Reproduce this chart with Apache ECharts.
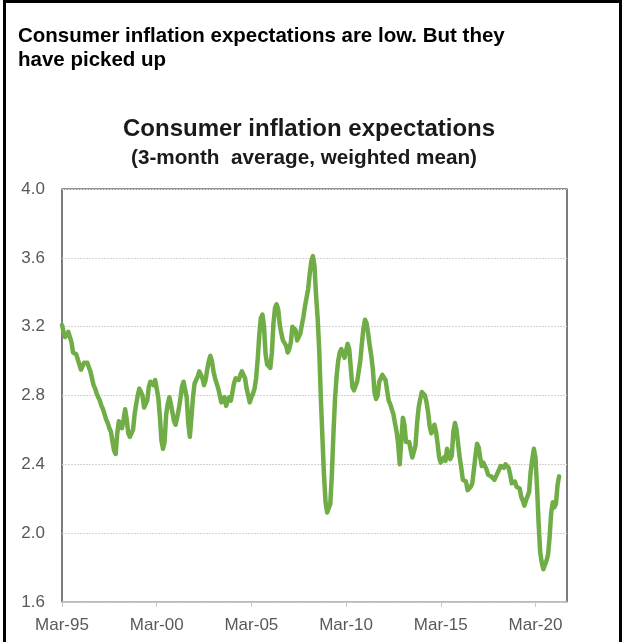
<!DOCTYPE html>
<html>
<head>
<meta charset="utf-8">
<script src="https://cdn.jsdelivr.net/npm/echarts@6/dist/echarts.min.js"></script>
<style>
  html, body { margin: 0; padding: 0; background: #fff; }
  #chart { position: absolute; left: 0; top: 0; width: 624px; height: 642px; }
  #frame {
    position: absolute; left: 3px; top: 0; width: 619px; height: 700px;
    border: 3px solid #000; box-sizing: border-box; pointer-events: none;
  }
</style>
</head>
<body>
<div id="chart"></div>
<div id="frame"></div>
<script>
// monthly, 3-month average, weighted mean; Mar-95 .. Jun-21
const expectations = [
  3.21, 3.17, 3.14, 3.15, 3.17, 3.18, 3.11, 3.05, 3.06, 3.04, 3.01, 2.98,
  2.95, 2.96, 2.99, 3.00, 2.99, 2.98, 2.94, 2.90, 2.86, 2.84, 2.81, 2.79,
  2.77, 2.74, 2.72, 2.69, 2.66, 2.64, 2.61, 2.59, 2.53, 2.48, 2.46, 2.58,
  2.65, 2.66, 2.61, 2.66, 2.72, 2.66, 2.58, 2.56, 2.56, 2.60, 2.69, 2.75,
  2.80, 2.84, 2.82, 2.80, 2.73, 2.73, 2.77, 2.85, 2.88, 2.89, 2.86, 2.89,
  2.88, 2.79, 2.68, 2.54, 2.49, 2.53, 2.69, 2.75, 2.79, 2.75, 2.70, 2.65,
  2.63, 2.64, 2.72, 2.78, 2.85, 2.88, 2.89, 2.79, 2.64, 2.56, 2.67, 2.79,
  2.87, 2.89, 2.91, 2.94, 2.92, 2.90, 2.86, 2.89, 2.95, 3.00, 3.03, 3.00,
  2.94, 2.90, 2.87, 2.84, 2.80, 2.76, 2.77, 2.79, 2.74, 2.77, 2.79, 2.77,
  2.82, 2.87, 2.90, 2.90, 2.89, 2.92, 2.94, 2.94, 2.90, 2.84, 2.80, 2.76,
  2.79, 2.81, 2.84, 2.90, 3.01, 3.15, 3.25, 3.27, 3.20, 3.04, 2.98, 2.97,
  2.96, 3.05, 3.22, 3.31, 3.33, 3.30, 3.21, 3.16, 3.12, 3.11, 3.09, 3.05,
  3.07, 3.11, 3.20, 3.20, 3.18, 3.12, 3.11, 3.16, 3.21, 3.26, 3.32, 3.37,
  3.42, 3.51, 3.58, 3.61, 3.55, 3.38, 3.25, 3.06, 2.79, 2.56, 2.34, 2.18,
  2.12, 2.12, 2.17, 2.34, 2.58, 2.78, 2.91, 3.00, 3.05, 3.07, 3.06, 3.02,
  3.03, 3.10, 3.07, 2.96, 2.85, 2.83, 2.82, 2.88, 2.94, 3.00, 3.10, 3.19,
  3.24, 3.22, 3.16, 3.09, 3.03, 2.95, 2.82, 2.78, 2.80, 2.88, 2.90, 2.92,
  2.92, 2.89, 2.83, 2.77, 2.75, 2.72, 2.69, 2.64, 2.59, 2.52, 2.40, 2.54,
  2.67, 2.63, 2.53, 2.53, 2.53, 2.48, 2.44, 2.43, 2.51, 2.64, 2.73, 2.78,
  2.82, 2.81, 2.80, 2.76, 2.70, 2.62, 2.58, 2.60, 2.63, 2.59, 2.52, 2.44,
  2.41, 2.41, 2.44, 2.42, 2.49, 2.46, 2.43, 2.45, 2.59, 2.64, 2.60, 2.52,
  2.44, 2.38, 2.31, 2.30, 2.30, 2.25, 2.25, 2.27, 2.29, 2.37, 2.45, 2.52,
  2.50, 2.44, 2.39, 2.41, 2.41, 2.37, 2.34, 2.33, 2.33, 2.32, 2.31, 2.32,
  2.35, 2.37, 2.39, 2.39, 2.38, 2.40, 2.41, 2.38, 2.34, 2.29, 2.28, 2.30,
  2.27, 2.28, 2.26, 2.21, 2.19, 2.16, 2.19, 2.18, 2.24, 2.36, 2.43, 2.49,
  2.44, 2.27, 2.06, 1.89, 1.83, 1.79, 1.815, 1.84, 1.875, 1.98, 2.12, 2.18,
  2.15, 2.17, 2.28, 2.33
];

const monthNames = ['Jan', 'Feb', 'Mar', 'Apr', 'May', 'Jun', 'Jul', 'Aug', 'Sep', 'Oct', 'Nov', 'Dec'];
const axisStart = { year: 1995, month: 2 };   // Mar-95
const axisEnd = { year: 2021, month: 10 };    // Nov-21 (right edge of plot)
const yTicks = { min: 1.6, max: 4.0, step: 0.4 };

const titleText = 'Consumer inflation expectations are low. But they\nhave picked up';
const chartTitle = 'Consumer inflation expectations';
const chartSubtitle = '(3-month  average, weighted mean)';

// category labels like "Mar-95"
const categories = [];
for (let y = axisStart.year, m = axisStart.month; y < axisEnd.year || (y === axisEnd.year && m <= axisEnd.month);) {
  categories.push(monthNames[m] + '-' + String(y % 100).padStart(2, '0'));
  m++;
  if (m > 11) { m = 0; y++; }
}

const chart = echarts.init(document.getElementById('chart'));

const font = '"Liberation Sans", Arial, sans-serif';

const option = {
  animation: false,
  backgroundColor: '#fff',
  title: [
    {
      text: titleText,
      left: 18,
      top: 25,
      padding: 0,
      textStyle: { fontFamily: font, fontSize: 20.5, fontWeight: 'bold', color: '#000', lineHeight: 23.5 }
    },
    {
      text: chartTitle,
      left: 123,
      top: 115,
      padding: 0,
      textStyle: { fontFamily: font, fontSize: 24, fontWeight: 'bold', color: '#1a1a1a', lineHeight: 28 }
    },
    {
      text: chartSubtitle,
      left: 131,
      top: 147,
      padding: 0,
      textStyle: { fontFamily: font, fontSize: 20.7, fontWeight: 'bold', color: '#1a1a1a', lineHeight: 22 }
    }
  ],
  grid: {
    left: 62,
    right: 57,
    top: 189,
    bottom: 40,
    show: true,
    borderColor: '#262626',
    borderWidth: 1.2
  },
  xAxis: {
    type: 'category',
    data: categories,
    boundaryGap: false,
    axisLine: { show: true, lineStyle: { color: '#c8c8c8', width: 1.5 } },
    axisTick: {
      show: true,
      interval: 59,
      length: 5,
      lineStyle: { color: '#c8c8c8' }
    },
    axisLabel: {
      interval: 59,
      margin: 15,
      fontFamily: font,
      fontSize: 17,
      color: '#595959'
    },
    splitLine: { show: false }
  },
  yAxis: {
    type: 'value',
    min: yTicks.min,
    max: yTicks.max,
    interval: yTicks.step,
    axisLine: { show: false },
    axisTick: { show: false },
    axisLabel: {
      margin: 17,
      fontFamily: font,
      fontSize: 17,
      color: '#595959',
      formatter: (v) => v.toFixed(1)
    },
    splitLine: {
      show: true,
      lineStyle: { color: '#d4d4d4', type: [2, 1], width: 1 }
    }
  },
  series: [
    {
      name: 'Consumer inflation expectations',
      type: 'line',
      data: expectations,
      symbol: 'none',
      smooth: false,
      lineStyle: { color: '#70ad47', width: 4.5, join: 'round', cap: 'round' },
      itemStyle: { color: '#70ad47' }
    }
  ]
};

chart.setOption(option);
</script>
</body>
</html>
